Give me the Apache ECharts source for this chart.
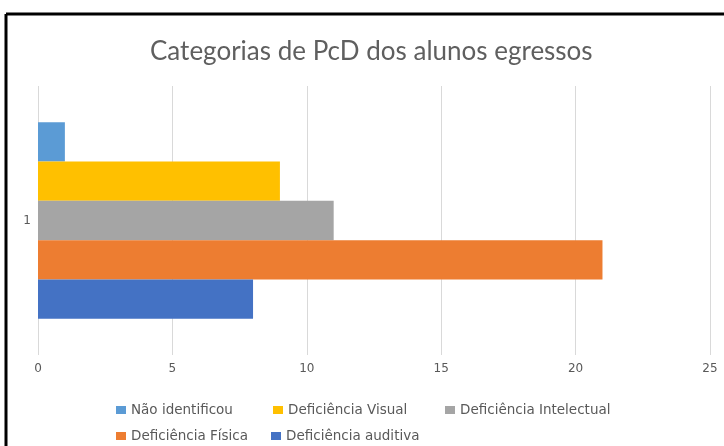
<!DOCTYPE html>
<html>
<head>
<meta charset="utf-8">
<script src="https://cdn.jsdelivr.net/npm/echarts@6/dist/echarts.min.js"></script>
<style>
  html, body { margin: 0; padding: 0; background: #fff; }
  #chart { width: 724px; height: 446px; }
</style>
</head>
<body>
<div id="chart"></div>
<script>
  // dados (ordem de cima para baixo)
  const categorias = ['1'];
  const nomesSeries = ['Não identificou', 'Deficiência Visual', 'Deficiência Intelectual', 'Deficiência Física', 'Deficiência auditiva'];
  const naoIdentificou = [1];
  const visual = [9];
  const intelectual = [11];
  const fisica = [21];
  const auditiva = [8];
  const cores = ['#5B9BD5', '#FFC000', '#A5A5A5', '#ED7D31', '#4472C4'];

  const valores = [naoIdentificou, visual, intelectual, fisica, auditiva];
  const fonteTexto = 'DejaVu Sans';

  // posição de cada item da legenda (duas linhas, como no Excel)
  const posLegenda = [[116, 403], [273, 403], [445, 403], [116, 429], [271, 429]];

  let myChart = echarts.init(document.getElementById('chart'));
  myChart.setOption({
    animation: false,
    title: {
      text: 'Categorias de PcD dos alunos egressos',
      left: 150,
      top: 39,
      padding: 0,
      textStyle: { color: '#5f5f5f', fontSize: 26, fontWeight: 'normal', fontFamily: 'Lato' }
    },
    legend: nomesSeries.map((nome, i) => ({
      data: [nome],
      left: posLegenda[i][0],
      top: posLegenda[i][1],
      padding: 0,
      icon: 'rect',
      itemWidth: 10,
      itemHeight: 8,
      textStyle: { color: '#595959', fontSize: 13.5, fontFamily: fonteTexto }
    })),
    grid: { left: 38, right: 14, top: 86, bottom: 91 },
    xAxis: {
      type: 'value',
      min: 0,
      max: 25,
      interval: 5,
      axisLine: { show: false },
      axisTick: { show: false },
      splitLine: { lineStyle: { color: '#D9D9D9' } },
      axisLabel: { color: '#595959', fontSize: 12, fontFamily: fonteTexto, margin: 8 }
    },
    yAxis: {
      type: 'category',
      data: categorias,
      inverse: true,
      axisLine: { show: false },
      axisTick: { show: false },
      axisLabel: { color: '#595959', fontSize: 12, fontFamily: fonteTexto, margin: 7 }
    },
    series: nomesSeries.map((nome, i) => ({
      name: nome,
      type: 'bar',
      data: valores[i],
      itemStyle: { color: cores[i] },
      barGap: '0%',
      barCategoryGap: '27%'
    })),
    graphic: [
      { type: 'line', shape: { x1: 6, y1: 14, x2: 724, y2: 14 }, style: { stroke: '#000', lineWidth: 3 } },
      { type: 'line', shape: { x1: 6, y1: 14, x2: 6, y2: 446 }, style: { stroke: '#000', lineWidth: 3 } }
    ]
  });
</script>
</body>
</html>
